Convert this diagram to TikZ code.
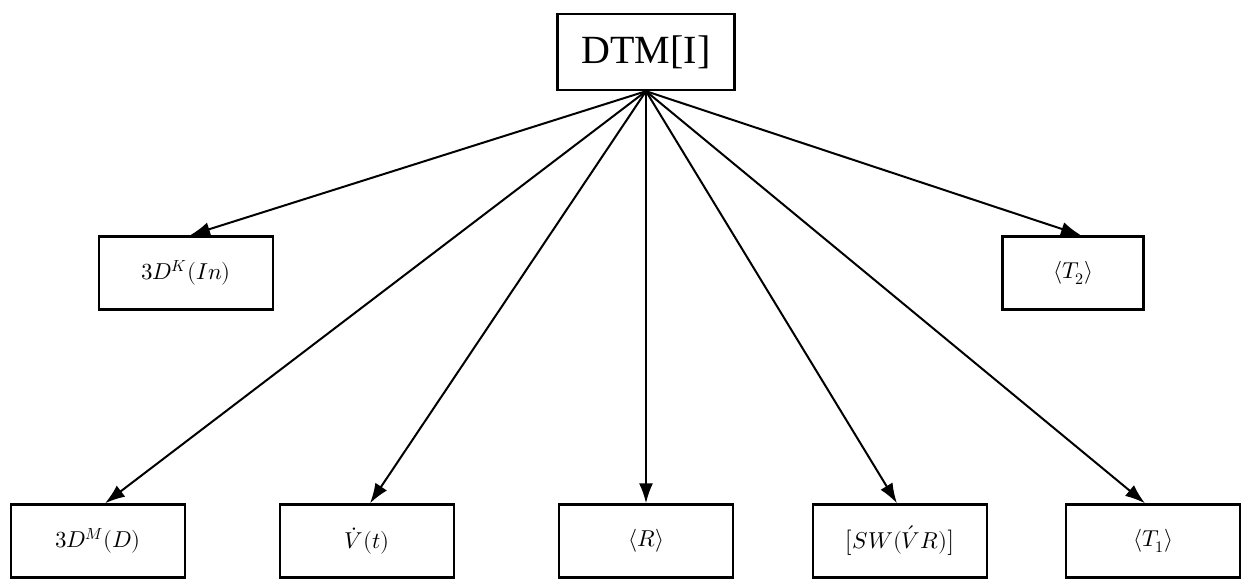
\documentclass[tikz,border=0pt]{standalone}
\usepackage{fontspec}
\usepackage{unicode-math}
\setmainfont{Liberation Serif}
\setmathfont{Latin Modern Math}
\usetikzlibrary{arrows.meta}
\begin{document}
\begin{tikzpicture}[x=1pt,y=-1pt,
  box/.style={draw=black,line width=2.4pt,fill=white,rectangle,inner sep=0pt,
    minimum width=174pt,minimum height=73pt,font=\fontsize{23}{27}\selectfont},
  link/.style={line width=2pt,-{Latex[length=20pt,width=14pt]}}]
\useasboundingbox[fill=white] (0,0) rectangle (1248,579);
% root
\node[box,minimum width=177pt,minimum height=76pt,font=\fontsize{40}{46}\selectfont] (dtm) at (646,52) {DTM[I]};
% middle row
\node[box] (kin) at (186,273) {$3D^{K}(In)$};
\node[box,minimum width=141pt] (t2) at (1073,273) {$\langle T_{2}\rangle$};
% bottom row
\node[box] (md) at (98,541) {$3D^{M}(D)$};
\node[box] (vt) at (367,541) {$\dot{V}(t)$};
\node[box] (r) at (646,541) {$\langle R\rangle$};
\node[box] (sw) at (900,541) {$\bigl[SW(\acute{V}R)\bigr]$};
\node[box] (t1) at (1153,541) {$\langle T_{1}\rangle$};
% connectors
\draw[link] (dtm.south) -- ([xshift=4pt]kin.north);
\draw[link] (dtm.south) -- ([xshift=8pt]t2.north);
\draw[link] (dtm.south) -- ([xshift=7pt]md.north);
\draw[link] (dtm.south) -- ([xshift=3pt]vt.north);
\draw[link] (dtm.south) -- (r.north);
\draw[link] (dtm.south) -- ([xshift=-3pt]sw.north);
\draw[link] (dtm.south) -- ([xshift=-8pt]t1.north);
\end{tikzpicture}
\end{document}
